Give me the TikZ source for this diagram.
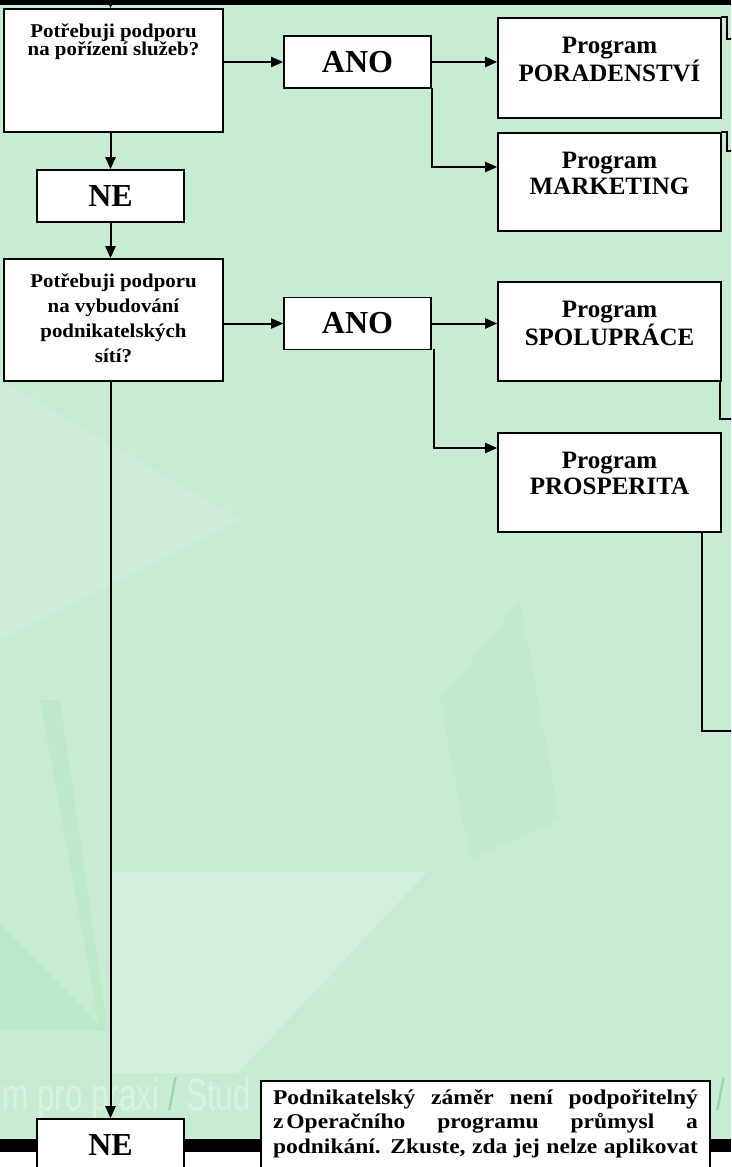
\documentclass[tikz,border=0pt]{standalone}
\usepackage{fontspec}
\setmainfont{Liberation Serif}
\newfontfamily\widefont[FakeStretch=1.07]{Liberation Serif}
\newfontfamily\notefont[FakeStretch=1.12]{Liberation Serif}
\newfontfamily\wmfont{Liberation Sans}
\usetikzlibrary{arrows.meta}
\definecolor{mintbg}{RGB}{200,236,211}
\definecolor{mintlt}{RGB}{218,243,227}
\definecolor{mintdk}{RGB}{176,228,195}
\definecolor{wmark}{RGB}{217,243,226}
\definecolor{wslash}{RGB}{150,214,172}

% text set at the top of a box of fixed size
\newcommand{\toplines}[3]{\parbox[c][#2][t]{#1}{\centering #3}}

\begin{document}
\begin{tikzpicture}[line cap=rect,line join=miter,>={Triangle[length=12pt,width=10pt]},x=1pt,y=-1pt,
	box/.style={draw,fill=white,line width=1.6pt,inner xsep=0pt,font=\bfseries},
	quest/.style={box,inner ysep=15pt},
	prog/.style={box,inner ysep=19pt,font=\bfseries\fontsize{25}{26}\selectfont},
	answer/.style={box,minimum width=147,minimum height=52,inner sep=0pt,font=\bfseries\fontsize{32}{32}\selectfont},
	wmtext/.style={anchor=base west,inner sep=0pt,text=wmark,font=\wmfont\fontsize{45}{45}\selectfont},
	link/.style={line width=2pt}]
	\useasboundingbox (0,0) rectangle (731,1167);
	\clip (0,0) rectangle (731,1167);
	% slide background
	\fill[white] (0,0) rectangle (731,1167);
	\fill[mintbg] (0,0) rectangle (731,1152);
	\fill[mintlt,opacity=0.6] (112,872) -- (427,872) -- (238,1073) -- (112,1073) -- cycle;
	\fill[mintlt,opacity=0.4] (0,380) -- (240,520) -- (0,640) -- cycle;
	\fill[mintdk,opacity=0.5] (0,924) -- (105,1030) -- (0,1030) -- cycle;
	\fill[mintdk,opacity=0.4] (40,700) -- (60,700) -- (108,1030) -- (100,1030) -- cycle;
	\fill[mintdk,opacity=0.3] (440,700) -- (520,600) -- (560,820) -- (470,860) -- cycle;
	\node[wmtext] (wmL) at (2,1110) {\scalebox{0.7}[1]{m pro praxi \textcolor{wslash}{/} Stud}};
	\node[wmtext] (wmR) at (716,1110) {\scalebox{0.7}[1]{\textcolor{wslash}{/}}};
	\fill[black] (0,0) rectangle (731,5);
	\fill[black] (0,1139) rectangle (731,1152);

	% boxes
	\node[quest,font=\widefont\bfseries\fontsize{19.5}{18}\selectfont] (q1) at (113.5,70.5)
		{\toplines{219pt}{93pt}{Potřebuji podporu\\na pořízení služeb?}};
	\node[answer] (ne1) at (110.5,196) {NE};
	\node[answer] (anoA) at (357.5,62) {ANO};
	\node[prog] (prgA) at (609.5,68) {\toplines{223pt}{62pt}{Program\\PORADENSTVÍ}};
	\node[prog] (prgB) at (609.5,182) {\toplines{223pt}{60pt}{Program\\MARKETING}};

	\node[quest,font=\widefont\bfseries\fontsize{19.5}{25}\selectfont] (q2) at (113.5,320)
		{\toplines{219pt}{92pt}{Potřebuji podporu\\na vybudování\\podnikatelských\\sítí?}};
	\node[answer] (anoB) at (357.5,323.5) {ANO};
	\node[prog] (prgC) at (609.5,331.5) {\toplines{223pt}{61pt}{Program\\SPOLUPRÁCE}};
	\node[prog] (prgD) at (609.5,482.5) {\toplines{223pt}{61pt}{Program\\PROSPERITA}};

	\node[answer] (ne2) at (110.5,1145) {NE};
	\node[box,inner xsep=12pt,inner ysep=8.5pt] (note) at (485.5,1139.5)
		{\parbox[c][100pt][t]{425pt}{\notefont\bfseries\fontsize{21}{24.5}\selectfont
		\makebox[\linewidth][s]{Podnikatelský záměr není podpořitelný}\\
		\makebox[\linewidth][s]{z\kern3pt Operačního programu průmysl a}\\
		\makebox[\linewidth][s]{podnikání. Zkuste, zda jej nelze aplikovat}}};

	% connectors
	\coordinate (top) at (110.5,-10);
	\draw[link,->] (top) -- (top |- q1.north);
	\draw[link,->] (q1.east |- anoA.west) -- (anoA.west);
	\draw[link,->] (anoA.east) -- (anoA.east -| prgA.west);
	\draw[link,->] (anoA.south east) |- ([yshift=15pt]prgB.west);
	\draw[link,->] (q1.south -| ne1.north) -- (ne1.north);
	\draw[link,->] (ne1.south) -- (ne1.south |- q2.north);
	\draw[link,->] (q2.east |- anoB.west) -- (anoB.west);
	\draw[link,->] (anoB.east) -- (anoB.east -| prgC.west);
	\draw[link,->] ([xshift=2pt]anoB.south east) |- ([yshift=34.5pt]prgD.west);
	\draw[link,->] (q2.south -| ne2.north) -- (ne2.north);

	% lines leaving the picture on the right
	\coordinate (exA) at (740,39);
	\coordinate (exB) at (740,151);
	\coordinate (exC) at (740,419);
	\coordinate (exD) at (740,731);
	\draw[link] (prgA.north east) -- ++(5,0) |- (exA);
	\draw[link] (prgB.north east) -- ++(5,0) |- (exB);
	\draw[link] ([xshift=-2pt]prgC.south east) |- (exC);
	\draw[link] ([xshift=-20pt]prgD.south east) |- (exD);
\end{tikzpicture}
\end{document}
